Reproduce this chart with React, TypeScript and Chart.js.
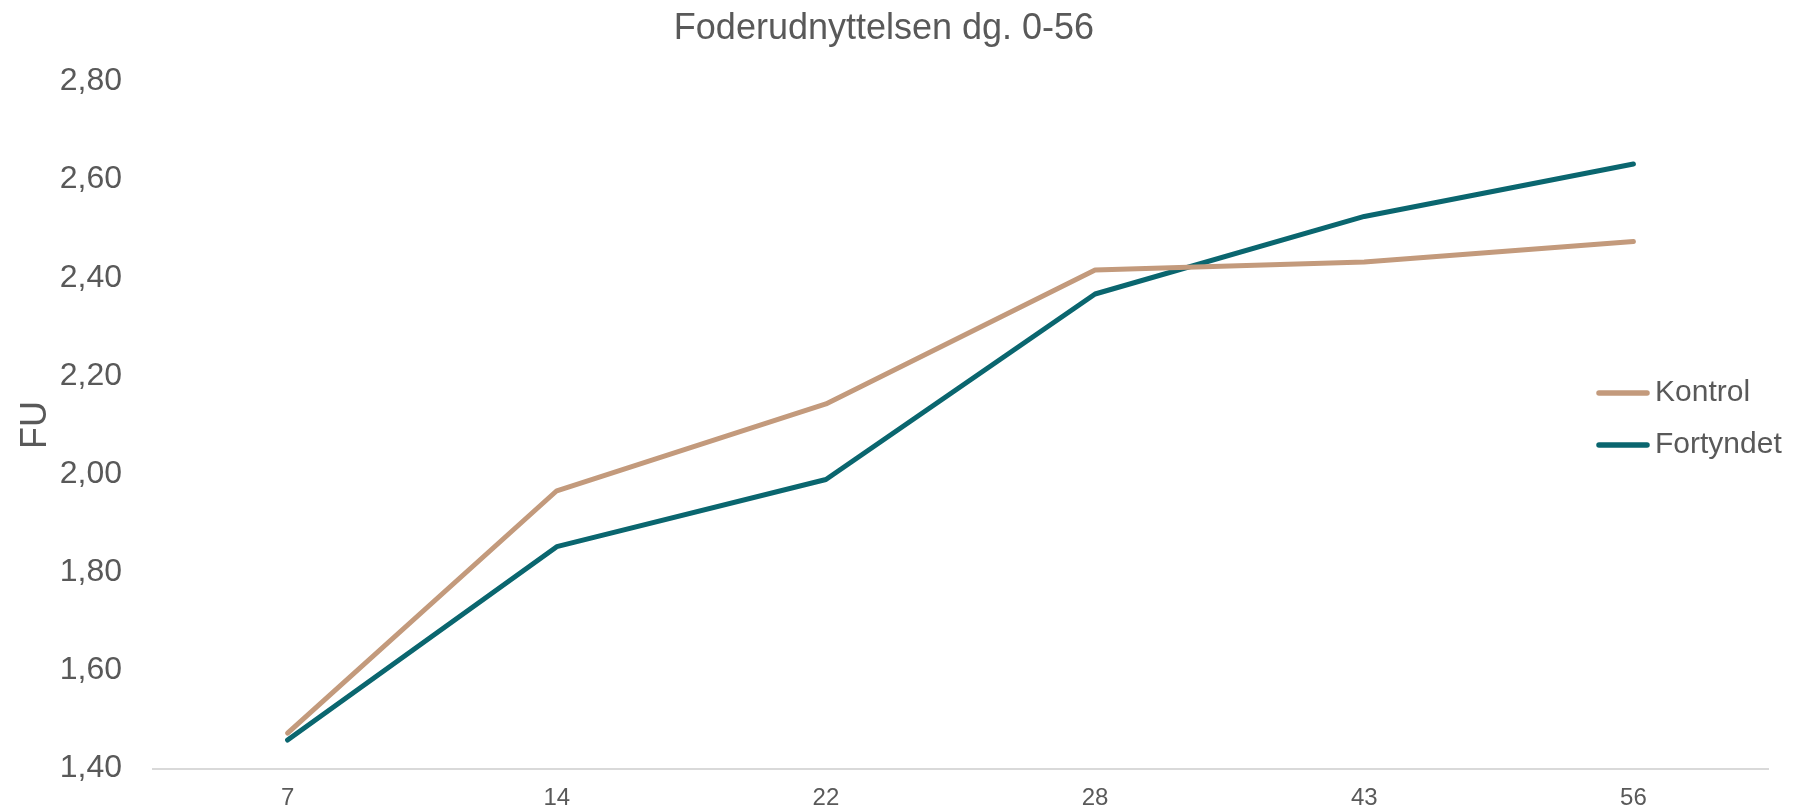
import React, { useEffect, useRef } from "react";
import { Chart, registerables } from "chart.js";

Chart.register(...registerables);

const titleText = "Foderudnyttelsen dg. 0-56";
const yAxisTitle = "FU";
const categories = ["7", "14", "22", "28", "43", "56"];
const kontrolValues = [1.472, 1.966, 2.143, 2.416, 2.432, 2.474];
const fortyndetValues = [1.458, 1.852, 1.989, 2.367, 2.525, 2.632];
const seriesNames = ["Kontrol", "Fortyndet"];
const seriesColors = ["#C39A7C", "#0A666F"];
const yMin = 1.4;
const yMax = 2.8;
const yStep = 0.2;

const textColor = "#595959";
const fontFamily = "'Liberation Sans', Arial, sans-serif";

const legendPlugin = {
  id: "rightLegend",
  afterDraw(chart: any) {
    const ctx = chart.ctx;
    const items = chart.data.datasets;
    const x0 = 1596;
    const lineLen = 54;
    const ys = [393, 445];
    ctx.save();
    items.forEach((ds: any, i: number) => {
      const y = ys[i];
      ctx.strokeStyle = ds.borderColor;
      ctx.lineWidth = 5.5;
      ctx.lineCap = "round";
      ctx.beginPath();
      ctx.moveTo(x0 + 3, y);
      ctx.lineTo(x0 + lineLen - 3, y);
      ctx.stroke();
      ctx.fillStyle = textColor;
      ctx.font = `30px ${fontFamily}`;
      ctx.textAlign = "left";
      ctx.textBaseline = "middle";
      ctx.fillText(ds.label, x0 + lineLen + 5, y);
    });
    ctx.restore();
  },
};

export default function App() {
  const ref = useRef<HTMLCanvasElement>(null);
  useEffect(() => {
    if (!ref.current) return;
    const chart = new Chart(ref.current, {
      type: "line",
      data: {
        labels: categories,
        datasets: [
          {
            label: seriesNames[0],
            data: kontrolValues,
            borderColor: seriesColors[0],
            backgroundColor: seriesColors[0],
            borderWidth: 5,
            pointRadius: 0,
            tension: 0,
            borderCapStyle: "round",
            borderJoinStyle: "round",
          },
          {
            label: seriesNames[1],
            data: fortyndetValues,
            borderColor: seriesColors[1],
            backgroundColor: seriesColors[1],
            borderWidth: 5,
            pointRadius: 0,
            tension: 0,
            borderCapStyle: "round",
            borderJoinStyle: "round",
          },
        ],
      },
      options: {
        responsive: false,
        animation: false,
        layout: { padding: { left: 0, right: 25, top: 0, bottom: 0 } },
        plugins: {
          legend: { display: false },
          tooltip: { enabled: false },
          title: {
            display: true,
            text: titleText,
            color: textColor,
            font: { family: fontFamily, size: 36, weight: "normal", lineHeight: 1 },
            padding: { top: 11, bottom: 34.5 },
          },
        },
        scales: {
          x: {
            type: "category",
            offset: true,
            grid: { display: false, drawTicks: false },
            border: { display: true, color: "#D9D9D9", width: 2 },
            ticks: {
              color: textColor,
              padding: 15,
              font: { family: fontFamily, size: 24, lineHeight: 1.2 },
              maxRotation: 0,
            },
            afterFit: (scale: any) => {
              scale.height = 40.5;
            },
          },
          y: {
            min: yMin,
            max: yMax,
            grid: { display: false, drawTicks: false },
            border: { display: false },
            ticks: {
              stepSize: yStep,
              color: textColor,
              padding: 31,
              font: { family: fontFamily, size: 32 },
              callback: (v: any) => Number(v).toFixed(2).replace(".", ","),
            },
            title: {
              display: true,
              text: yAxisTitle,
              color: textColor,
              font: { family: fontFamily, size: 36, lineHeight: 1.2 },
              padding: { top: 14.5, bottom: 0 },
            },
            afterFit: (scale: any) => {
              scale.width = 153;
              scale.paddingTop = 0;
              scale.paddingBottom = 0;
            },
          },
        },
      },
      plugins: [legendPlugin],
    });
    return () => chart.destroy();
  }, []);
  return (
    <div style={{ position: "absolute", left: 0, top: 0, width: 1793, height: 809, overflow: "hidden" }}>
      <canvas ref={ref} width={1793} height={809} />
    </div>
  );
}
